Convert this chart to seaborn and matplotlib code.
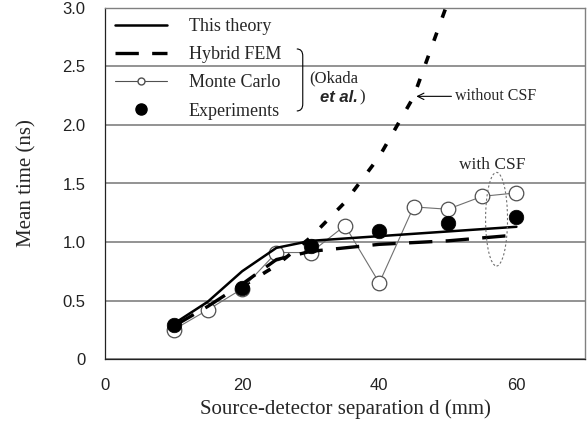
import numpy as np
import pandas as pd
import seaborn as sns
import matplotlib
matplotlib.use("Agg")
import matplotlib.pyplot as plt
from matplotlib.lines import Line2D
from matplotlib.patches import Ellipse, PathPatch
from matplotlib.path import Path

# ---- data -----------------------------------------------------------------
theory_d = [10, 15, 20, 25, 30, 40, 50, 60]
theory_t = [0.30, 0.49, 0.75, 0.95, 1.01, 1.05, 1.09, 1.13]

fem_d = [10, 15, 20, 25, 30, 40, 50, 60]
fem_t = [0.28, 0.45, 0.64, 0.85, 0.92, 0.98, 1.01, 1.06]

mc_d = [10, 15, 20, 25, 30, 35, 40, 45, 50, 55, 60]
mc_t = [0.25, 0.42, 0.60, 0.91, 0.91, 1.14, 0.65, 1.30, 1.28, 1.39, 1.42]

exp_d = [10, 20, 30, 40, 50, 60]
exp_t = [0.29, 0.61, 0.97, 1.09, 1.16, 1.21]

nocsf_d = [20, 25, 30, 35, 40, 45, 50]
nocsf_t = [0.62, 0.80, 1.04, 1.34, 1.73, 2.24, 3.05]

y_ticks = [0, 0.5, 1.0, 1.5, 2.0, 2.5, 3.0]
y_tick_labels = ["0", "0.5", "1.0", "1.5", "2.0", "2.5", "3.0"]
x_ticks = [0, 20, 40, 60]
x_tick_labels = ["0", "20", "40", "60"]

# ---- style ----------------------------------------------------------------
sns.set_theme(style="white")
plt.rcParams["font.family"] = ["Liberation Serif", "DejaVu Serif"]
SANS = ["Liberation Sans", "DejaVu Sans"]

fig = plt.figure(figsize=(5.88, 4.23), dpi=100)
ax = fig.add_axes([105 / 588, 1 - 359 / 423, 480 / 588, 351 / 423])

def frame(d, t):
    return pd.DataFrame({"d": d, "t": t})

# curve without CSF (thick short dashes)
sns.lineplot(data=frame(nocsf_d, nocsf_t), x="d", y="t", ax=ax, sort=False,
             estimator=None, color="black", lw=2.6, zorder=3)
ax.lines[-1].set_dashes((2.4, 4.4))

# Monte Carlo: thin grey line with open circles
sns.lineplot(data=frame(mc_d, mc_t), x="d", y="t", ax=ax, sort=False,
             estimator=None, color="#707070", lw=0.8, zorder=4)
sns.scatterplot(data=frame(mc_d, mc_t), x="d", y="t", ax=ax, s=110,
                facecolor="white", edgecolor="#505050", linewidth=0.9, zorder=5)

# hybrid FEM (long dashes)
sns.lineplot(data=frame(fem_d, fem_t), x="d", y="t", ax=ax, sort=False,
             estimator=None, color="black", lw=2.4, zorder=6)
ax.lines[-1].set_dashes((7, 4))

# this theory (solid)
sns.lineplot(data=frame(theory_d, theory_t), x="d", y="t", ax=ax, sort=False,
             estimator=None, color="black", lw=1.8, zorder=7)

# experiments (filled circles)
sns.scatterplot(data=frame(exp_d, exp_t), x="d", y="t", ax=ax, s=110,
                color="black", edgecolor="black", linewidth=0.5, zorder=8)

# ---- axes -----------------------------------------------------------------
ax.set_xlim(0, 70)
ax.set_ylim(0, 3.0)
ax.set_yticks(y_ticks)
ax.set_yticklabels(y_tick_labels, family=SANS, fontsize=12, color="#222222")
ax.set_xticks(x_ticks)
ax.set_xticklabels(x_tick_labels, family=SANS, fontsize=12, color="#222222")
ax.tick_params(axis="y", length=0, pad=14)
ax.tick_params(axis="x", direction="in", length=3, width=0.8, color="#333333", pad=14)
ax.set_xlabel("Source-detector separation d (mm)", fontsize=15, labelpad=4)
ax.set_ylabel("Mean time (ns)", fontsize=15, labelpad=19)

ax.yaxis.grid(True, color="#808080", lw=1.2)
ax.xaxis.grid(False)
ax.set_axisbelow(True)
for side in ("left", "bottom"):
    ax.spines[side].set_color("#222222")
    ax.spines[side].set_linewidth(0.9)
for side in ("right", "top"):
    ax.spines[side].set_color("#808080")
    ax.spines[side].set_linewidth(1.0)

# ---- legend ---------------------------------------------------------------
handles = [
    Line2D([], [], color="black", lw=1.8),
    Line2D([], [], color="black", lw=2.4, dashes=(7, 4)),
    Line2D([], [], color="#505050", lw=0.8, marker="o", markersize=5,
           markerfacecolor="white", markeredgecolor="#505050"),
    Line2D([], [], color="black", lw=0, marker="o", markersize=8),
]
labels = ["This theory", "Hybrid FEM", "Monte Carlo", "Experiments"]
ax.legend(handles, labels, loc="upper left", frameon=False, fontsize=13,
          handlelength=2.9, handletextpad=1.2, labelspacing=0.62,
          borderaxespad=0.25, borderpad=0.3)

# bracket grouping the Okada et al. entries
bx0, bx1 = 27.97, 28.84
verts = [(bx0, 2.65), (bx1, 2.65), (bx1, 2.59), (bx1, 2.18),
         (bx1, 2.12), (bx0, 2.12)]
codes = [Path.MOVETO, Path.CURVE3, Path.CURVE3, Path.LINETO,
         Path.CURVE3, Path.CURVE3]
ax.add_patch(PathPatch(Path(verts, codes), fill=False, lw=0.8,
                       edgecolor="black", zorder=9))
ax.text(29.8, 2.40, "(Okada", fontsize=12, ha="left", va="center")
etal = ax.text(31.4, 2.235, "et al.", fontsize=12, ha="left", va="center",
               style="italic", weight="bold", family=SANS)
ax.annotate(")", xy=(1, 0.5), xycoords=etal, xytext=(1, 0),
            textcoords="offset points", fontsize=12, ha="left", va="center")

# annotations
ax.annotate("without CSF", xy=(45.4, 2.245), xytext=(51.0, 2.245),
            fontsize=11.5, ha="left", va="center",
            arrowprops=dict(arrowstyle="->", lw=0.8, color="black",
                            shrinkA=0, shrinkB=0))
ax.text(56.5, 1.66, "with CSF", fontsize=12.5, ha="center", va="center")
ax.add_patch(Ellipse((57.1, 1.195), 3.2, 0.80, fill=False, lw=0.8,
                     edgecolor="#707070", linestyle=(0, (2, 2)), zorder=10))

fig.savefig("out.png", dpi=100)
